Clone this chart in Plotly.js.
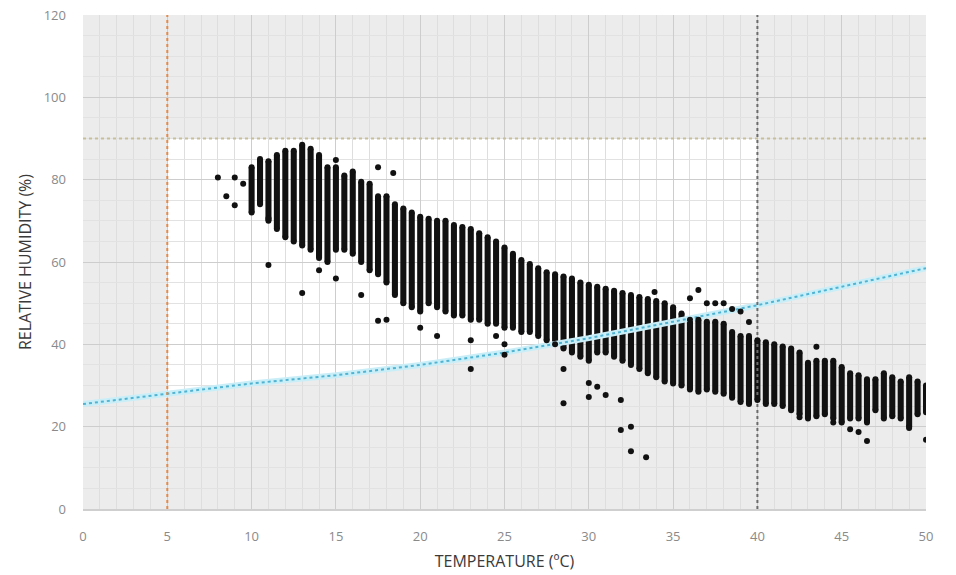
<!DOCTYPE html>
<html>
<head>
<meta charset="utf-8">
<script src="https://cdn.plot.ly/plotly-3.0.1.min.js"></script>
<style>html,body{margin:0;padding:0;background:#fff}#chart{width:956px;height:575px}</style>
</head>
<body>
<div id="chart"></div>
<script>
// Dense measurement columns: temperature (ºC) and RH range (%) covered by the points
const temps = [10,10.5,11,11.5,12,12.5,13,13.5,14,14.5,15,15.5,16,16.5,17,17.5,18,18.5,19,19.5,20,20.5,21,21.5,22,22.5,23,23.5,24,24.5,25,25.5,26,26.5,27,27.5,28,28.5,29,29.5,30,30.5,31,31.5,32,32.5,33,33.5,34,34.5,35,35.5,36,36.5,37,37.5,38,38.5,39,39.5,40,40.5,41,41.5,42,42.5,43,43.5,44,44.5,45,45.5,46,46.5,47,47.5,48,48.5,49,49.5,50];
const lowRH = [72,74,70,68,66,65,64,63,61,60,63,63,62,60,58,57,55,52,50,49,48,50,49,48,47,47,46,46,45,45,44,44,43,43,42,41,40,39,38,37,36,38,38,37,36,35,34,33,32,31,30.5,30,29,28.5,29,28.5,28,27,26,25.5,26.5,25.5,25.5,25,24,23,22,22.5,23,22,21,22,22,21,24,22,22.5,22,20,23,23.5];
const highRH = [83,85,84.5,86,87,87,88.5,87.5,86,83,83,81,82,79.5,79,76,76,74,73,72,71,70.5,70,70,69,68.5,68,67,66,65,63.5,62,60.5,59.5,58.5,57.5,57,56.5,56,55,54.5,54,53.5,53,52.5,52,51.5,51,50.5,50,49,47.5,46,46,45.5,45.5,45,43,42,42,41,40.5,40,39.5,39,38,35.5,36,36,36,34.5,33,32.5,31.5,31.5,33,32,31,32,31,30];
// Isolated points
const outT  = [8,8.5,9,9,9.5,11,11,13,14,15,15,16.5,17.5,17.5,18,18.4,20,21,23,23,24.5,25,25,28.5,28.5,30,30,30.5,31,31.9,31.9,32.5,32.5,33.4,33.9,36,36.5,37,37.5,38,38.5,39,39.5,42.5,43.5,44.5,45.5,46,46.5,49,50];
const outRH = [80.5,76,80.5,73.8,79,70.6,59.3,52.5,58,56,84.8,52,83,45.7,46,81.6,44,42,41,34,42,40,37.5,34,25.7,30.6,27.2,29.7,27.7,26.5,19.2,20,14,12.6,52.7,51.2,53.2,50,50,50,48.6,48,45.4,22.3,39.4,21,19.4,18.7,16.5,19.7,16.8];
// Comfort boundary curve (cyan)
const curveT  = [0,5,10,15,20,25,30,35,40,45,50];
const curveRH = [25.5,28,30.5,32.5,35,38,41.5,45.5,49.5,54,58.5];
// Limits
const tMin = 5, tMax = 40, rhMax = 90;
const xTicks = [0,5,10,15,20,25,30,35,40,45,50];
const yTicks = [0,20,40,60,80,100,120];

// White comfort region: between tMin and tMax, above the curve and below rhMax
let pts = [];
for (let i = 0; i < curveT.length; i++) {
  if (curveT[i] >= tMin && curveT[i] <= tMax) pts.push([curveT[i], curveRH[i]]);
}
let path = 'M ' + pts.map(p => p[0] + ',' + p[1]).join(' L ') + ' L ' + tMax + ',' + rhMax + ' L ' + tMin + ',' + rhMax + ' Z';

const ink = '#111111';
const traces = [
  {type:'scatter', mode:'lines', x:curveT, y:curveRH, line:{color:'#c9eef8', width:6}, hoverinfo:'skip'},
  {type:'scatter', mode:'lines', x:curveT, y:curveRH, line:{color:'#52b3d1', width:2, dash:'dot'}, hoverinfo:'skip'},
  {type:'scatter', mode:'lines', x:[tMin,tMin], y:[0,120], line:{color:'#e08a4c', width:2, dash:'dot'}},
  {type:'scatter', mode:'lines', x:[tMax,tMax], y:[0,120], line:{color:'#6b6b6b', width:2, dash:'dot'}},
  {type:'scatter', mode:'lines', x:[0,50], y:[rhMax,rhMax], line:{color:'#c8bf98', width:2, dash:'dot'}},
  {type:'bar', x:temps, base:lowRH, y:highRH.map((h,i)=>h-lowRH[i]), width:0.36, marker:{color:ink, line:{width:0}}},
  {type:'scatter', mode:'markers', x:temps, y:highRH, marker:{color:ink, size:6}},
  {type:'scatter', mode:'markers', x:temps, y:lowRH, marker:{color:ink, size:6}},
  {type:'scatter', mode:'markers', x:outT, y:outRH, marker:{color:ink, size:6}}
];

const layout = {
  width:956, height:575,
  margin:{l:83, r:30, t:15, b:66},
  paper_bgcolor:'#ffffff',
  plot_bgcolor:'#ececec',
  showlegend:false,
  font:{family:'Open Sans, sans-serif'},
  shapes:[{type:'path', path:path, xref:'x', yref:'y', layer:'below', fillcolor:'#ffffff', line:{width:0}}],
  xaxis:{
    range:[0,50], tickvals:xTicks, ticktext:xTicks.map(String),
    showgrid:true, gridcolor:'#cdcdcd', gridwidth:1,
    minor:{dtick:1, showgrid:true, gridcolor:'#dedede', gridwidth:1},
    zeroline:false, showline:true, linecolor:'#cfcfcf', linewidth:2,
    ticks:'', ticklabelstandoff:14, tickfont:{size:13, color:'#8a8a8a'},
    title:{text:'TEMPERATURE (ºC)', font:{size:16, color:'#3a3a3a'}, standoff:12}
  },
  yaxis:{
    range:[0,120], tickvals:yTicks, ticktext:yTicks.map(String),
    showgrid:true, gridcolor:'#cdcdcd', gridwidth:1,
    minor:{dtick:5, showgrid:true, gridcolor:'#e2e2e2', gridwidth:1},
    zeroline:false, showline:false,
    ticks:'', ticklabelstandoff:16, tickfont:{size:13, color:'#8a8a8a'},
    title:{text:'RELATIVE HUMIDITY (%)', font:{size:16, color:'#3a3a3a'}, standoff:8}
  }
};

Plotly.newPlot('chart', traces, layout, {displayModeBar:false, staticPlot:true});
</script>
</body>
</html>
